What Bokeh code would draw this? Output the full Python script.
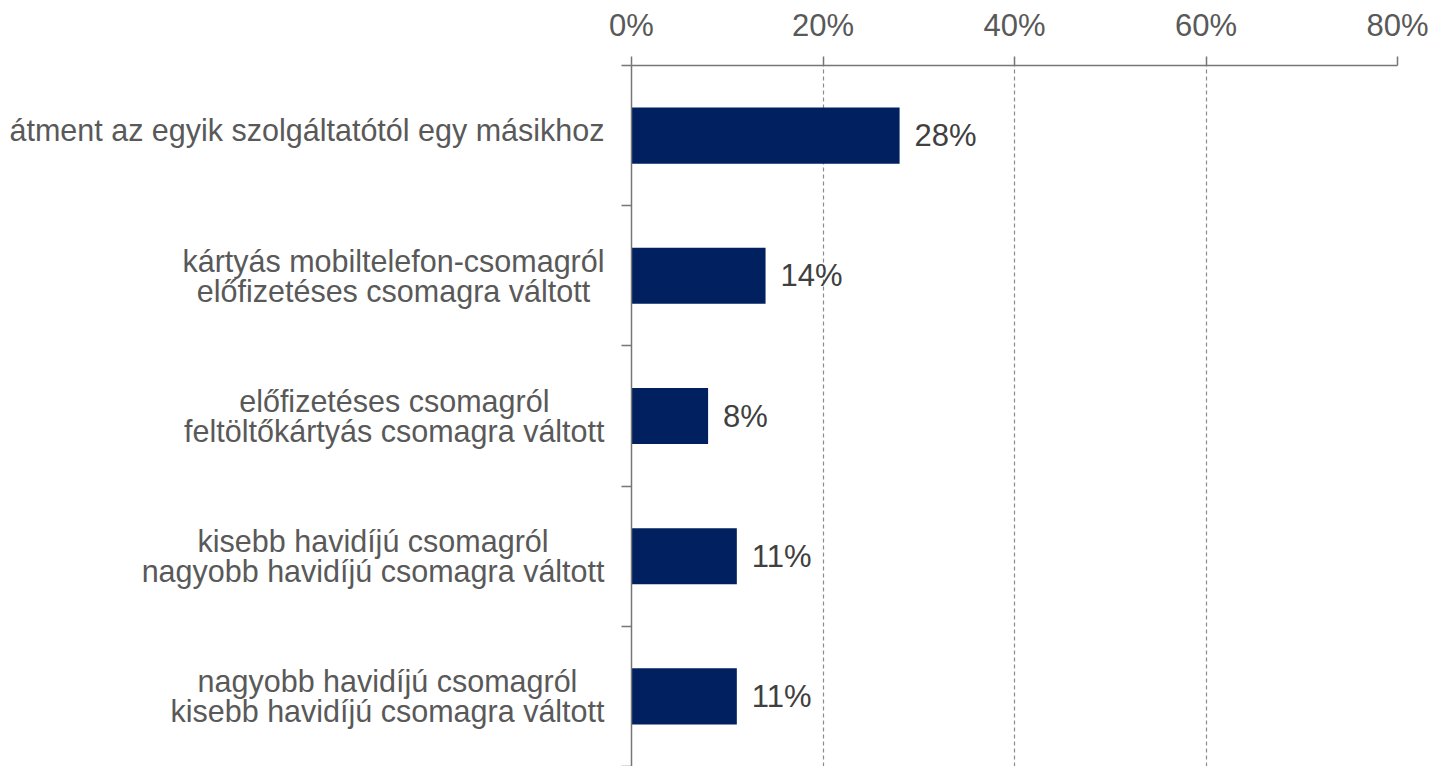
from bokeh.plotting import figure
from bokeh.layouts import row
from bokeh.models import Range1d, FixedTicker, Grid, ColumnDataSource, LabelSet
from bokeh.core.properties import value
from bokeh.embed import file_html
from bokeh.resources import INLINE

categories = [
    "átment az egyik szolgáltatótól egy másikhoz",
    "kártyás mobiltelefon-csomagról\nelőfizetéses csomagra váltott",
    "előfizetéses csomagról\nfeltöltőkártyás csomagra váltott",
    "kisebb havidíjú csomagról\nnagyobb havidíjú csomagra váltott",
    "nagyobb havidíjú csomagról\nkisebb havidíjú csomagra váltott",
]
values = [28, 14, 8, 11, 11]
value_labels = ["28%", "14%", "8%", "11%", "11%"]
x_ticks = [0, 20, 40, 60, 80]
x_tick_labels = ["0%", "20%", "40%", "60%", "80%"]

FONT = "Liberation Sans"
n = len(categories)
ypos = [n - i - 0.5 for i in range(n)]
boundaries = [float(i) for i in range(n + 1)]
label_dy = [0 if "\n" in c else -6 for c in categories]

src = ColumnDataSource(dict(y=ypos, v=values, lab=value_labels, cat=categories,
                            anchor_x=[1] * n, dy=label_dy))
yr = Range1d(0, n)

# ---- label panel (category names: block right-anchored, lines centred)
lp = figure(width=608, height=766, output_backend="svg", toolbar_location=None,
            x_range=Range1d(0, 1), y_range=yr, x_axis_type=None, y_axis_type=None,
            min_border_left=0, min_border_right=0, min_border_top=65, min_border_bottom=0)
lp.outline_line_color = None
lp.grid.visible = False
lp.text(x="anchor_x", y="y", text="cat", source=src, x_offset=-4, y_offset="dy",
        anchor="center_right", text_align="center", text_baseline="middle",
        text_font=value(FONT), text_font_size="30.5px", text_color="#595959",
        text_line_height=0.88)

# ---- main chart
p = figure(width=820, height=766, output_backend="svg", toolbar_location=None,
           x_range=Range1d(x_ticks[0], x_ticks[-1]), y_range=yr,
           x_axis_location="above", min_border_left=23, min_border_top=65,
           min_border_right=31, min_border_bottom=0)
p.outline_line_color = None
p.background_fill_color = "white"
p.border_fill_color = "white"

p.hbar(y="y", right="v", left=0, height=0.4, source=src, fill_color="#002060", line_color=None)

labels = LabelSet(x="v", y="y", text="lab", source=src, x_offset=15, text_baseline="middle",
                  text_font=value(FONT), text_font_size="31px", text_color="#404040")
p.add_layout(labels)

# top axis
xa = p.xaxis[0]
xa.ticker = FixedTicker(ticks=x_ticks)
xa.major_label_overrides = {t: l for t, l in zip(x_ticks, x_tick_labels)}
xa.major_tick_out = 9
xa.major_tick_in = 0
xa.minor_tick_out = 0
xa.minor_tick_in = 0
xa.axis_line_color = "#767676"
xa.axis_line_width = 1.5
xa.major_tick_line_color = "#767676"
xa.major_tick_line_width = 1.5
xa.major_label_text_font = FONT
xa.major_label_text_font_size = "31px"
xa.major_label_text_color = "#595959"
xa.major_label_standoff = 14

# left axis (line and boundary ticks only)
ya = p.yaxis[0]
ya.ticker = FixedTicker(ticks=[], minor_ticks=boundaries)
ya.major_tick_out = 0
ya.major_tick_in = 0
ya.major_label_standoff = 0
ya.minor_tick_out = 10
ya.minor_tick_in = 0
ya.minor_tick_line_color = "#767676"
ya.minor_tick_line_width = 1.5
ya.axis_line_color = "#767676"
ya.axis_line_width = 1.5

p.ygrid.visible = False
p.xgrid.ticker = FixedTicker(ticks=x_ticks[1:-1])
p.xgrid.grid_line_color = "#8c8c8c"
p.xgrid.grid_line_dash = "4 3"
p.xgrid.grid_line_width = 1.2

g_end = Grid(dimension=0, ticker=FixedTicker(ticks=[x_ticks[-1]]),
             grid_line_color="#767676", grid_line_width=1.5)
p.add_layout(g_end)

layout = row(lp, p, spacing=0)
open("out.html", "w").write(file_html(layout, INLINE))
